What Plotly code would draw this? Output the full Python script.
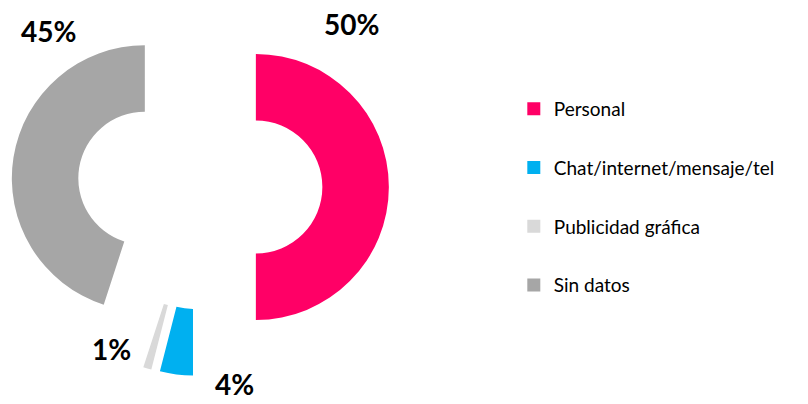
import math
import plotly.graph_objects as go

labels = ["Personal", "Chat/internet/mensaje/tel", "Publicidad gráfica", "Sin datos"]
values = [50, 4, 1, 45]
colors = ["#FF0066", "#00B0F0", "#D9D9D9", "#A6A6A6"]

W, H = 808, 404
OFF = 8  # the page body margin shifts the whole figure by 8px

# donut geometry (px): centre before exploding, radius, explode distance
CX, CY = 200 - OFF, 187 - OFF
R = 133
PULL = 0.42

label_pos = [(351, 24), (234, 384), (111, 349), (48, 31)]

FONT = "Lato, 'Open Sans', sans-serif"
CLEAR = "rgba(0,0,0,0)"

fig = go.Figure()

# one pie per slice, so every slice can be pushed out without shrinking the donut
total = sum(values)
cum = 0
for i, v in enumerate(values):
    mid = 2 * math.pi * (cum + v / 2) / total
    cum += v
    dx = math.sin(mid) * PULL * R
    dy = -math.cos(mid) * PULL * R
    cx, cy = CX + dx, CY + dy
    fig.add_trace(go.Pie(
        labels=labels,
        values=values,
        marker=dict(colors=[c if j == i else CLEAR for j, c in enumerate(colors)],
                    line=dict(width=0)),
        hole=0.5,
        sort=False,
        direction="clockwise",
        rotation=0,
        textinfo="none",
        hoverinfo="skip",
        showlegend=False,
        domain=dict(
            x=[max(0, (cx - R) / W), min(1, (cx + R) / W)],
            y=[max(0, 1 - (cy + R) / H), min(1, 1 - (cy - R) / H)],
        ),
    ))

# dummy traces for the legend so the items can be spaced out
for name, c in zip(labels, colors):
    fig.add_trace(go.Scatter(
        x=[None], y=[None], mode="markers", name=name, legendgroup=name,
        marker=dict(symbol="square", size=13, color=c),
    ))

for v, (lx, ly) in zip(values, label_pos):
    fig.add_annotation(
        x=(lx - OFF) / W, y=1 - (ly - OFF) / H, xref="paper", yref="paper",
        xanchor="center", yanchor="middle",
        text=f"<b>{v}%</b>", showarrow=False,
        font=dict(family=FONT, size=28, color="#000000"),
    )

fig.update_layout(
    width=W, height=H,
    margin=dict(l=0, r=0, t=0, b=0),
    paper_bgcolor="white",
    plot_bgcolor="white",
    xaxis=dict(visible=False),
    yaxis=dict(visible=False),
    legend=dict(
        x=0.626, y=0.797, xanchor="left", yanchor="top",
        font=dict(family=FONT, size=19, color="#000000"),
        tracegroupgap=31,
        traceorder="grouped",
    ),
)

fig.write_html("out.html")
